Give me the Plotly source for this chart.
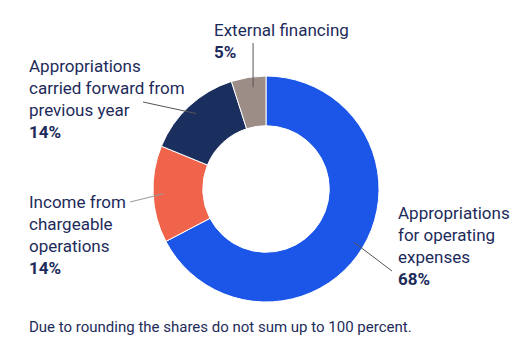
import math
import plotly.graph_objects as go

labels = ["Appropriations for operating expenses", "Income from chargeable operations",
          "Appropriations carried forward from previous year", "External financing"]
values = [68, 14, 14, 5]
colors = ["#1c56e9", "#f0644c", "#1b2f5f", "#9c8d87"]
label_texts = ["Appropriations<br>for operating<br>expenses<br><b>68%</b>",
               "Income from<br>chargeable<br>operations<br><b>14%</b>",
               "Appropriations<br>carried forward from<br>previous year<br><b>14%</b>",
               "External financing<br><b>5%</b>"]
note = "Due to rounding the shares do not sum up to 100 percent."

W, H = 530, 355
cx, cy, R = 266, 189, 113
hole = 0.56
TXT = "#1d2b5a"
FONT = "Roboto"

fig = go.Figure(go.Pie(
    labels=labels, values=values, hole=hole, sort=False, direction="clockwise",
    rotation=0, marker=dict(colors=colors, line=dict(color="white", width=1)),
    textinfo="none", hoverinfo="label+percent", showlegend=False,
    domain=dict(x=[(cx - R) / W, (cx + R) / W], y=[(H - cy - R) / H, (H - cy + R) / H]),
))

total = sum(values)
cum = 0
mids = []
for v in values:
    mids.append((cum + v / 2) / total * 2 * math.pi)
    cum += v

def ring_pt(a, r):
    return cx + r * math.sin(a), cy - r * math.cos(a)

outer = [(392, 271), (130, 202), (143, 102), (None, 43)]
text_pos = [(396, 213), (27, 202), (27, 66), (212, 30)]
r_in = 0.91 * R

shapes = []
annotations = []
for i in range(len(values)):
    x0, y0 = ring_pt(mids[i], r_in)
    ox, oy = outer[i]
    if ox is None:
        ox = x0 + 3
        x0 = ox
    shapes.append(dict(type="line", xref="paper", yref="paper",
                       x0=x0 / W, y0=1 - y0 / H, x1=ox / W, y1=1 - oy / H,
                       line=dict(color="#555555" if i != 1 else "#999999", width=1)))
    tx, ty = text_pos[i]
    annotations.append(dict(x=tx / W, y=1 - (ty - 12) / H, xref="paper", yref="paper",
                            text=label_texts[i], showarrow=False, xanchor="left", yanchor="top",
                            align="left", font=dict(family=FONT, size=17, color=TXT)))

annotations.append(dict(x=27 / W, y=1 - 327 / H, xref="paper", yref="paper", text=note,
                        showarrow=False, xanchor="left", yanchor="middle",
                        font=dict(family=FONT, size=15, color=TXT)))

fig.update_layout(width=W, height=H, margin=dict(l=0, r=0, t=0, b=0),
                  paper_bgcolor="white", plot_bgcolor="white",
                  shapes=shapes, annotations=annotations)
fig.write_html("out.html", config={"displayModeBar": False})
